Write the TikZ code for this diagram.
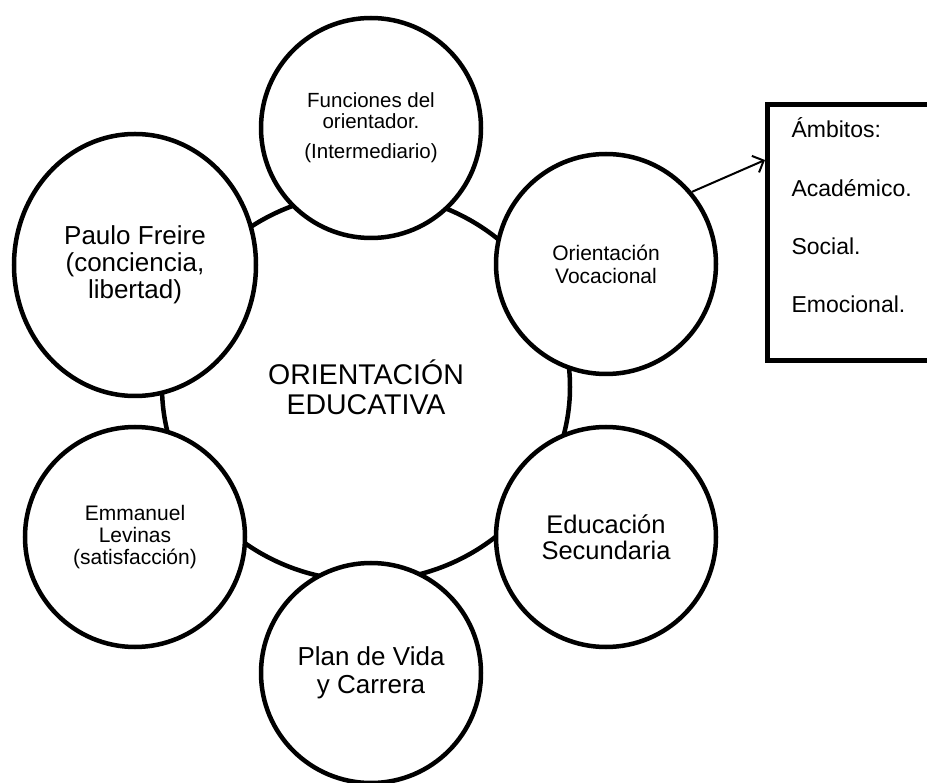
\documentclass[tikz,border=0pt]{standalone}
\usepackage{fontspec}
\setmainfont{Liberation Sans}
\usetikzlibrary{shapes.geometric,arrows.meta}
\tikzset{
  bubble/.style={circle, draw=black, fill=white, line width=4.5pt, inner sep=0pt, minimum size=220pt, align=center},
  hub/.style={ellipse, draw=black, line width=4.5pt, inner sep=0pt, minimum width=408pt, minimum height=388pt, align=center},
  framebox/.style={rectangle, draw=black, line width=5pt, inner sep=0pt, minimum width=220pt, minimum height=256pt, anchor=north west},
  link/.style={draw=black, line width=2pt, -{Straight Barb[length=9pt,width=18pt,line width=2pt]}}
}
\begin{document}
\begin{tikzpicture}[x=1pt,y=-1pt]
\useasboundingbox (0,0) rectangle (927,783);
\clip (0,0) rectangle (927,783);
\fill[white] (0,0) rectangle (927,783);
\node[hub, font=\fontsize{28.5}{30}\selectfont] (oe) at (366,387) {ORIENTACIÓN\\EDUCATIVA};
\node[bubble, font=\fontsize{20.5}{21}\selectfont] (fun) at (371,128) {Funciones del\\orientador.\\[9pt](Intermediario)};
\node[bubble, font=\fontsize{21}{23}\selectfont] (ori) at (606,264) {Orientación\\Vocacional};
\node[bubble, font=\fontsize{25.5}{26}\selectfont] (edu) at (606,537) {Educación\\Secundaria};
\node[bubble, font=\fontsize{26}{28}\selectfont] (plan) at (371,673) {Plan de Vida\\y Carrera};
\node[bubble, font=\fontsize{21}{22}\selectfont] (lev) at (135,537) {Emmanuel\\Levinas\\(satisfacción)};
\node[bubble, ellipse, minimum width=242pt, minimum height=262pt, font=\fontsize{26}{27}\selectfont] (pf) at (135,265) {Paulo Freire\\(conciencia,\\libertad)};
\node[framebox] (amb) at (765,102) {};
\node[anchor=base west, align=left, font=\fontsize{23}{58.4}\selectfont] (ambtxt) at (788,313) {Ámbitos:\\Académico.\\Social.\\Emocional.};
\path (amb.north west) ++(0,58) coordinate (tip);
\draw[link] (ori.40) -- (tip);
\end{tikzpicture}
\end{document}
